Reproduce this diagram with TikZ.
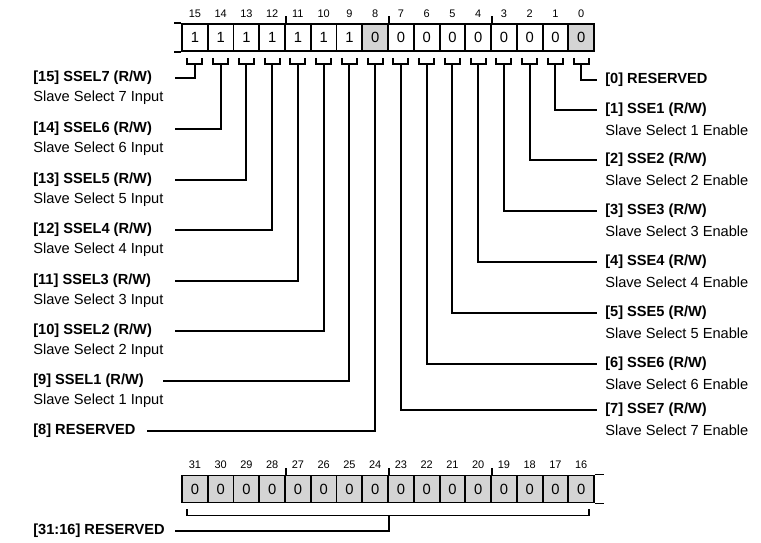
\documentclass[tikz,border=0pt]{standalone}
\usepackage{fontspec}
\setmainfont{Liberation Sans}
\usepackage{xcolor}
\definecolor{bitGray}{HTML}{D4D4D4}
\usepackage{tikz}
\usetikzlibrary{calc}

\begin{document}
\begin{tikzpicture}[x=0.025cm, y=-0.025cm,
  cell/.style={draw, line width=1.4pt, minimum width=0.644cm,
    minimum height=0.675cm, inner sep=0pt, font=\fontsize{10.5}{12}\selectfont},
  bitnum/.style={font=\fontsize{7.8}{9}\selectfont, inner sep=0pt},
  conn/.style={line width=1.4pt},
  title/.style={anchor=west, inner sep=0pt, font=\fontsize{10.4}{12}\selectfont\bfseries},
  desc/.style={anchor=west, inner sep=0pt, font=\fontsize{10.4}{12}\selectfont}
]
  \useasboundingbox (0,0) rectangle (761,543);

  % Bits 15..0
  \foreach \i in {0,...,15} {
    \pgfmathsetmacro\cx{182+(15-\i+0.5)*25.75}
    \pgfmathtruncatemacro\val{\i>8 ? 1 : 0}
    \ifnum\i=8 \def\cfill{bitGray}\else\ifnum\i=0 \def\cfill{bitGray}\else\def\cfill{white}\fi\fi
    \node[cell, fill=\cfill] (c\i) at (\cx,37.5) {\val};
    \node[bitnum] (n\i) at (\cx,14) {\i};
    % bracket
    \draw[conn] ($(c\i.south)+(-7.5,6)$) -- ++(0,6) -- ++(15,0) -- ++(0,-6);
  }
  \foreach \i in {12,8,4}
    \draw[conn] (c\i.north east) -- ++(0,-7);
  \draw[conn] (c15.north west) -- ++(-7,0);
  \draw[conn] (c15.south west) -- ++(-7,0);

  % Left labels
  \foreach \i/\n/\y/\ex in {15/7/78/175, 14/6/129/175, 13/5/180/175,
      12/4/230/175, 11/3/281/175, 10/2/331/175, 9/1/381/163} {
    \node[title] (t\i) at (33,\y) {[\i] SSEL\n\ (R/W)};
    \node[desc] (s\i) at (33,\y+20) {Slave Select \n\ Input};
    \coordinate (e\i) at (\ex,\y);
    \draw[conn] ($(c\i.south)+(0,12)$) |- (e\i);
  }
  \node[title] (t8) at (33,431) {[8] RESERVED};
  \coordinate (e8) at (147,431);
  \draw[conn] ($(c8.south)+(0,12)$) |- (e8);

  % Right labels
  \node[title] (t0) at (605,80) {[0] RESERVED};
  \coordinate (e0) at (597,80);
  \draw[conn] ($(c0.south)+(0,12)$) |- (e0);
  \foreach \i/\y in {1/110, 2/160, 3/211, 4/262, 5/313, 6/364, 7/410} {
    \node[title] (t\i) at (605,\y) {[\i] SSE\i\ (R/W)};
    \node[desc] (s\i) at (605,\y+20) {Slave Select \i\ Enable};
    \coordinate (e\i) at (597,\y);
    \draw[conn] ($(c\i.south)+(0,12)$) |- (e\i);
  }

  % Bits 31..16
  \foreach \i in {16,...,31} {
    \pgfmathsetmacro\cx{182+(31-\i+0.5)*25.75}
    \node[cell, fill=bitGray] (d\i) at (\cx,489) {0};
    \node[bitnum] (n\i) at (\cx,465) {\i};
  }
  \foreach \i in {28,24,20}
    \draw[conn] (d\i.north east) -- ++(0,-7);
  \draw[conn] (d16.north east) -- ++(9,0);
  \draw[conn] (d16.south east) -- ++(9,0);
  \draw[conn] ($(d31.south)+(-7.5,6)$) -- ++(0,6) -| ($(d16.south)+(7.5,6)$);

  \node[title] (t31) at (33,531) {[31:16] RESERVED};
  \coordinate (e31) at (175,531);
  \draw[conn] ($(d24.south east)+(0,12)$) |- (e31);
\end{tikzpicture}
\end{document}
